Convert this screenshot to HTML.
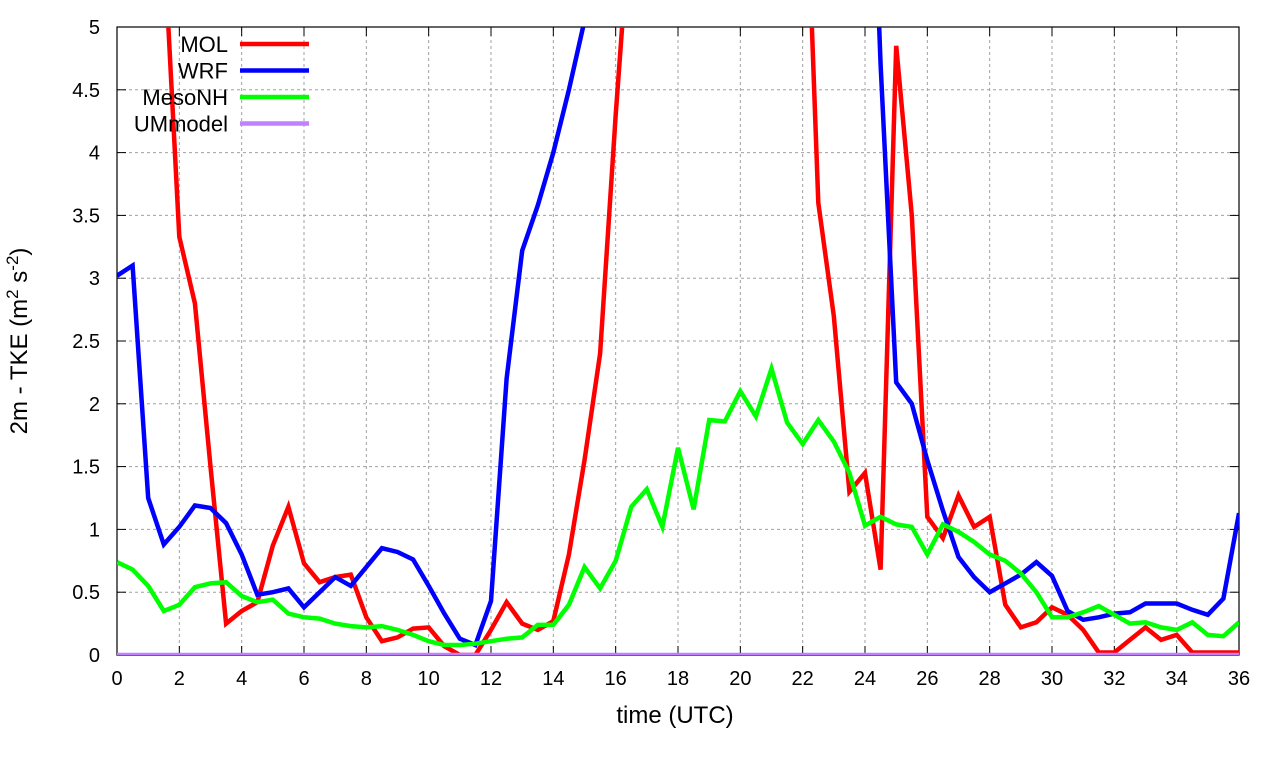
<!DOCTYPE html>
<html><head><meta charset="utf-8"><style>
body{margin:0;background:#fff}
svg{display:block;font-family:"Liberation Sans",sans-serif}
</style></head><body>
<svg id="chart" width="1280" height="760">
<defs><clipPath id="pc"><rect x="117" y="27" width="1122" height="628"/></clipPath></defs>
<g id="grid"></g>
<g id="axes"></g>
<g id="series" clip-path="url(#pc)"></g>
<g id="legend"></g>
<text x="675" y="723" font-size="24" text-anchor="middle">time (UTC)</text>
<text transform="translate(27,341) rotate(-90)" font-size="24" text-anchor="middle">2m - TKE (m<tspan font-size="17" dy="-9">2</tspan><tspan dy="9"> s</tspan><tspan font-size="17" dy="-9">-2</tspan><tspan dy="9">)</tspan></text>
</svg>
<script>
const times = Array.from({length:73},(_, i)=>i*0.5);
const xTicks = [0,2,4,6,8,10,12,14,16,18,20,22,24,26,28,30,32,34,36];
const yTicks = [0,0.5,1,1.5,2,2.5,3,3.5,4,4.5,5];
const yTickLabels = ["0","0.5","1","1.5","2","2.5","3","3.5","4","4.5","5"];
const seriesNames = ["MOL","WRF","MesoNH","UMmodel"];
const seriesColors = ["#ff0000","#0000ff","#00ff00","#c080ff"];
const mol = [7,7,7,5.7,3.33,2.8,1.5,0.25,0.35,0.42,0.87,1.18,0.73,0.58,0.62,0.64,0.3,0.11,0.14,0.21,0.22,0.07,0,0,0.2,0.42,0.25,0.2,0.27,0.8,1.55,2.4,4.3,6,7,7,7,7,7,7,7,7,7,7,7,3.6,2.7,1.3,1.45,0.68,4.85,3.5,1.1,0.93,1.27,1.02,1.1,0.4,0.22,0.26,0.38,0.32,0.2,0.02,0.02,0.12,0.22,0.12,0.16,0.02,0.02,0.02,0.02];
const wrf = [3.02,3.1,1.25,0.88,1.02,1.19,1.17,1.05,0.8,0.48,0.5,0.53,0.38,0.5,0.62,0.55,0.7,0.85,0.82,0.76,0.55,0.33,0.13,0.08,0.43,2.2,3.22,3.58,4.0,4.5,5.05,6,7,7,7,7,7,7,7,7,7,7,7,7,7,7,7,7,8,4.7,2.17,2.0,1.55,1.15,0.78,0.62,0.5,0.57,0.64,0.74,0.63,0.35,0.28,0.3,0.33,0.34,0.41,0.41,0.41,0.36,0.32,0.45,1.13];
const mesonh = [0.74,0.68,0.55,0.35,0.4,0.54,0.57,0.58,0.47,0.42,0.44,0.33,0.3,0.29,0.25,0.23,0.22,0.23,0.2,0.16,0.11,0.08,0.08,0.09,0.11,0.13,0.14,0.24,0.24,0.4,0.7,0.53,0.75,1.18,1.32,1.02,1.65,1.16,1.87,1.86,2.1,1.9,2.28,1.85,1.68,1.87,1.7,1.45,1.03,1.1,1.04,1.02,0.8,1.04,0.98,0.9,0.8,0.75,0.65,0.5,0.3,0.3,0.34,0.39,0.32,0.25,0.26,0.22,0.2,0.26,0.16,0.15,0.26];
const ummodel = times.map(()=>0);
const X0=117,X1=1239,Y0=655,Y1=27;
const xs=t=>X0+(t-0)/(36-0)*(X1-X0);
const ys=v=>Y0-(v-0)/(5-0)*(Y0-Y1);
const NS="http://www.w3.org/2000/svg";
function mk(tag,attrs,parent){const e=document.createElementNS(NS,tag);for(const k in attrs)e.setAttribute(k,attrs[k]);parent.appendChild(e);return e;}
const grid=document.getElementById('grid'),axes=document.getElementById('axes'),ser=document.getElementById('series'),leg=document.getElementById('legend');
xTicks.forEach(t=>{
  if(t>0&&t<36){const l=mk('line',{x1:xs(t),x2:xs(t),y1:Y0,y2:Y1,stroke:'#a0a0a0','stroke-width':1,'stroke-dasharray':'3,3'},grid);
  
  }
  const a=mk('line',{x1:xs(t),x2:xs(t),y1:Y0,y2:Y0-9,stroke:'#000'},axes);
  
  
  const b=mk('line',{x1:xs(t),x2:xs(t),y1:Y1,y2:Y1+9,stroke:'#000'},axes);
  
  
  const tx=mk('text',{x:xs(t),y:685,'font-size':20,'text-anchor':'middle'},axes);tx.textContent=t;
  
  
});
yTicks.forEach((v,i)=>{
  if(v>0&&v<5){const l=mk('line',{x1:X0,x2:X1,y1:ys(v),y2:ys(v),stroke:'#a0a0a0','stroke-width':1,'stroke-dasharray':'3,3'},grid);
  
  }
  const a=mk('line',{x1:X0,x2:X0+9,y1:ys(v),y2:ys(v),stroke:'#000'},axes);
  
  
  const b=mk('line',{x1:X1,x2:X1-9,y1:ys(v),y2:ys(v),stroke:'#000'},axes);
  
  
  const tx=mk('text',{x:100,y:ys(v)+7,'font-size':20,'text-anchor':'end'},axes);tx.textContent=yTickLabels[i];
  
  
});
const fr=mk('rect',{x:X0,y:Y1,width:X1-X0,height:Y0-Y1,fill:'none',stroke:'#000','stroke-width':1.2},axes);


const all=[mol,wrf,mesonh,ummodel];
all.forEach((d,si)=>{
  const pts=d.map((v,i)=>xs(times[i]).toFixed(1)+','+ys(v).toFixed(1)).join(' ');
  const p=mk('polyline',{points:pts,fill:'none',stroke:seriesColors[si],'stroke-width':4.5,'stroke-linejoin':'miter'},ser);
  
  
});
seriesNames.forEach((n,i)=>{
  const y=44+i*26.5;
  const tx=mk('text',{x:228,y:y+8,'font-size':22,'text-anchor':'end'},leg);tx.textContent=n;
  
  
  const l=mk('line',{x1:240,x2:309,y1:y,y2:y,stroke:seriesColors[i],'stroke-width':4.5},leg);
  
  
});
</script>
</body></html>
